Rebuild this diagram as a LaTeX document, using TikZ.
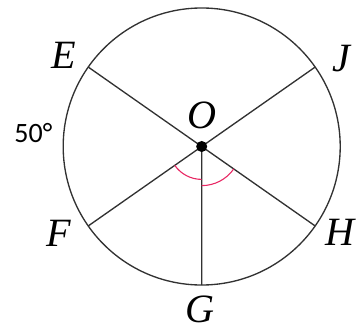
\documentclass[tikz,border=0pt]{standalone}
\usepackage{fontspec}
\setmainfont{Liberation Serif}
\newfontfamily\numfont{Carlito}
\definecolor{arcred}{RGB}{232,40,100}
\definecolor{ink}{RGB}{50,50,50}
\begin{document}
\begin{tikzpicture}[declare function={rc=4; ra=0.95; rb=1.13;},line width=1.1pt,
	lbl/.style={font=\fontsize{33}{36}\selectfont\itshape,inner sep=0pt}]
	\useasboundingbox (-5.825,-5.328) rectangle (4.485,4.231);
	\path (0,0) coordinate (O)
	(145:rc) coordinate (E)
	(35:rc) coordinate (J)
	(215:rc) coordinate (F)
	(-35:rc) coordinate (H)
	(-90:rc) coordinate (G);
	\draw[ink] (O) circle (rc);
	\draw[ink] (E)--(H) (J)--(F) (O)--(G);
	\draw[arcred,line width=0.9pt] ([shift={(215:ra)}]O) arc (215:270:ra);
	\draw[arcred,line width=0.9pt] ([shift={(270:rb)}]O) arc (270:325:rb);
	\fill (O) circle (0.16);
	\foreach \x/\goc/\d in {E/146.6/4.76,J/32.3/4.78,F/211.3/4.82,H/-31.8/4.69,G/-90.6/4.70}
	\node[lbl] (l\x) at (\goc:\d) {\x};
	\node[lbl] (lO) at (0.02,0.91) {O};
	\node[font=\numfont\fontsize{23}{26}\selectfont,inner sep=0pt] (ang) at (-4.86,0.40) {50°};
\end{tikzpicture}
\end{document}
